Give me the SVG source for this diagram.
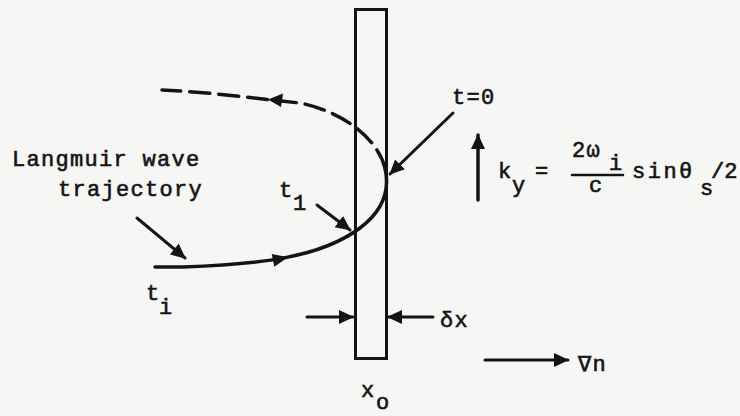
<svg xmlns="http://www.w3.org/2000/svg" width="740" height="416" viewBox="0 0 740 416">
<style>
.ink{stroke:#141414;fill:none;stroke-linecap:round}
.t{font-family:"Liberation Mono","DejaVu Sans Mono",monospace;font-size:22px;fill:#141414;stroke:#141414;stroke-width:0.6;letter-spacing:1.3px}
.ah{fill:#141414;stroke:none}
</style>
<defs>
<marker id="arr" viewBox="0 0 15 14" refX="14" refY="7" markerWidth="15" markerHeight="14" markerUnits="userSpaceOnUse" orient="auto">
<path d="M0,0 L15,7 L0,14 Z" class="ah"/>
</marker>
</defs>
<rect width="740" height="416" fill="#f6f6f4"/>
<g id="layer">
<rect x="355.5" y="9.5" width="31" height="349" class="ink" stroke-width="3"/>
</g>
<g id="connectors">
<path id="traj-solid" class="ink" stroke-width="3.5" d="M155,267 L183,267 C260,264 320,258 360,228 C384,210 390,190 385,168"/>
<path id="traj-dashed" class="ink" stroke-width="3.5" stroke-dasharray="20,9" stroke-linecap="butt" d="M385,168 C378,140 345,112 300,103 C260,99 210,92 162,90"/>
<path class="ah" d="M288,257.3 L274.3,266.7 L271.7,253.9 Z"/>
<path class="ah" d="M268,99.5 L283,93.5 L281,107 Z"/>
<line class="ink" stroke-width="3" x1="137" y1="218" x2="185" y2="258" marker-end="url(#arr)"/>
<line class="ink" stroke-width="3" x1="317" y1="205" x2="350" y2="230" marker-end="url(#arr)"/>
<line class="ink" stroke-width="3" x1="453" y1="113" x2="390" y2="174" marker-end="url(#arr)"/>
<line class="ink" stroke-width="3" x1="307" y1="317" x2="353" y2="317" marker-end="url(#arr)"/>
<line class="ink" stroke-width="3" x1="433" y1="317" x2="388" y2="317" marker-end="url(#arr)"/>
<line class="ink" stroke-width="3" x1="485" y1="360" x2="568" y2="360" marker-end="url(#arr)"/>
<line class="ink" stroke-width="3.5" x1="478" y1="200" x2="478" y2="135" marker-end="url(#arr)"/>
</g>
<g id="label-langmuir">
<text class="t" x="12" y="166">Langmuir wave</text>
<text class="t" x="58" y="196">trajectory</text>
</g>
<g id="label-t0"><text class="t" x="452" y="104">t=0</text></g>
<g id="label-t1"><text class="t" x="279" y="197">t</text><text class="t" x="293" y="210">1</text></g>
<g id="label-ti"><text class="t" x="146" y="300">t</text><text class="t" x="159" y="314">i</text></g>
<g id="label-dx"><text class="t" x="440" y="327">δx</text></g>
<g id="label-gradn"><text class="t" x="578" y="371">∇n</text></g>
<g id="label-x0"><text class="t" x="361" y="397">x</text><text class="t" x="376" y="409">o</text></g>
<g id="label-ky">
<text class="t" x="498" y="178">k</text>
<text class="t" x="512" y="192">y</text>
<text class="t" x="535" y="178">=</text>
<text class="t" x="572" y="157">2ω</text>
<text class="t" x="609" y="170">i</text>
<line class="ink" stroke-width="2.5" x1="572" y1="175" x2="623" y2="175"/>
<text class="t" x="589" y="192">c</text>
<text class="t" x="632" y="178" style="letter-spacing:2.5px">sinθ</text>
<text class="t" x="700" y="195">s</text>
<text class="t" x="711" y="178" style="letter-spacing:0px">/2</text>
</g>
</svg>
